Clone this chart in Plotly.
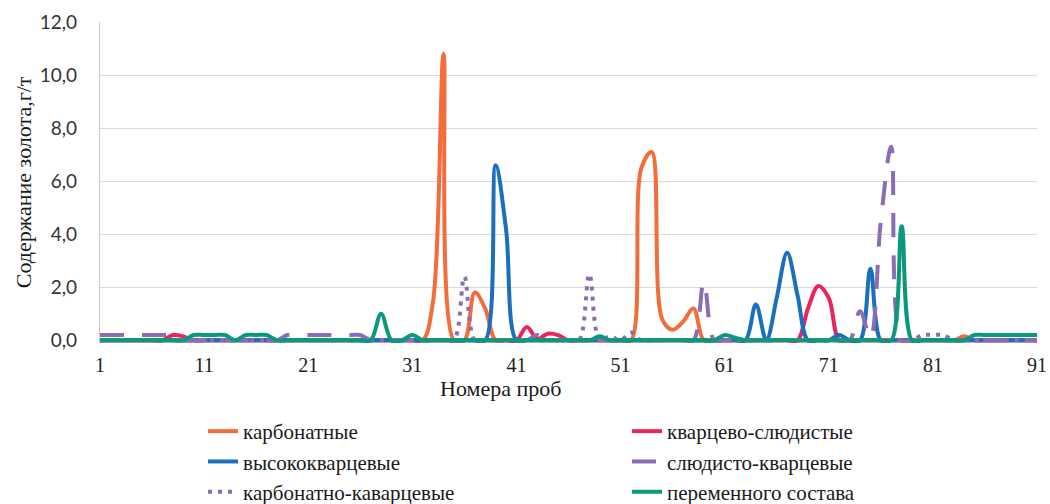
import plotly.graph_objects as go

# Sample numbers 1..91
samples = list(range(1, 92))

# Gold content, g/t, per sample for each rock type
karbonatnye = [
    0, 0, 0, 0, 0, 0, 0, 0, 0, 0,          # 1-10
    0, 0, 0, 0, 0, 0, 0, 0, 0, 0,          # 11-20
    0, 0, 0, 0, 0, 0, 0, 0, 0, 0,          # 21-30
    0, 0, 1.5, 10.8, 0, 0, 1.8, 1.2, 0, 0,  # 31-40
    0, 0, 0, 0, 0, 0, 0, 0, 0, 0,          # 41-50
    0, 0, 6.5, 7.1, 0.8, 0.4, 0.7, 1.2, 0, 0,  # 51-60
    0, 0, 0, 0, 0, 0, 0, 0, 0, 0,          # 61-70
    0, 0, 0, 0, 0, 0, 0, 0, 0, 0,          # 71-80
    0, 0, 0, 0.15, 0, 0, 0, 0, 0, 0,       # 81-90
    0,                                     # 91
]

kvartsevo_sludistye = [
    0, 0, 0, 0, 0, 0, 0, 0.2, 0.15, 0,
    0, 0, 0, 0, 0, 0, 0, 0, 0, 0,
    0, 0, 0, 0, 0, 0, 0, 0, 0, 0,
    0, 0, 0, 0, 0, 0, 0, 0, 0, 0,
    0, 0.5, 0.05, 0.25, 0.2, 0, 0, 0, 0, 0,
    0, 0, 0, 0, 0, 0, 0, 0, 0, 0,
    0, 0, 0, 0, 0, 0, 0, 0, 1.2, 2.05,
    1.6, 0, 0, 0, 0, 0, 0, 0, 0, 0,
    0, 0, 0, 0, 0, 0, 0, 0, 0, 0,
    0,
]

vysokokvartsevye = [
    0, 0, 0, 0, 0, 0, 0, 0, 0, 0,
    0, 0, 0, 0, 0, 0, 0, 0, 0, 0,
    0, 0, 0, 0, 0, 0, 0, 0, 0, 0,
    0, 0, 0, 0, 0, 0, 0, 0, 6.6, 4.2,
    0, 0, 0, 0, 0, 0, 0, 0, 0, 0,
    0, 0, 0, 0, 0, 0, 0, 0, 0, 0,
    0, 0, 0, 1.35, 0, 1.6, 3.3, 1.7, 0, 0,
    0, 0.2, 0, 0, 2.7, 0, 0, 0, 0, 0,
    0, 0, 0, 0, 0, 0, 0, 0, 0, 0,
    0,
]

sludisto_kvartsevye = [
    0.2, 0.2, 0.2, 0.2, 0.2, 0.2, 0.2, 0.2, 0, 0,
    0, 0, 0, 0, 0, 0, 0, 0, 0.2, 0.2,
    0.2, 0.2, 0.2, 0.2, 0.2, 0.2, 0, 0, 0, 0,
    0, 0, 0, 0, 0, 0, 0, 0, 0, 0,
    0, 0, 0.2, 0, 0, 0, 0, 0, 0, 0,
    0, 0, 0, 0, 0, 0, 0, 0, 2.2, 0,
    0, 0, 0, 0, 0, 0, 0, 0, 0, 0,
    0, 0, 0, 1.1, 0.1, 4.5, 7.3, 0, 0, 0,
    0, 0, 0, 0, 0, 0, 0, 0, 0, 0,
    0,
]

karbonatno_kvartsevye = [
    0, 0, 0, 0, 0, 0, 0, 0, 0, 0,
    0, 0, 0, 0, 0, 0, 0, 0, 0, 0,
    0, 0, 0, 0, 0, 0, 0, 0, 0, 0,
    0, 0, 0, 0, 0, 2.4, 0, 0, 0, 0,
    0, 0, 0, 0, 0, 0, 0, 2.5, 0, 0.15,
    0, 0.3, 0, 0, 0, 0, 0, 0, 0, 0,
    0, 0, 0, 0, 0, 0, 0, 0, 0, 0,
    0, 0, 0, 0, 0, 0, 0, 0, 0, 0.2,
    0.2, 0.2, 0, 0, 0, 0, 0, 0, 0, 0,
    0,
]

peremennogo_sostava = [
    0, 0, 0, 0, 0, 0, 0, 0, 0, 0.2,
    0.2, 0.2, 0.2, 0, 0.2, 0.2, 0.2, 0, 0, 0,
    0, 0, 0, 0, 0, 0, 0, 1.0, 0, 0,
    0.2, 0, 0, 0, 0, 0, 0, 0, 0, 0,
    0, 0, 0, 0, 0, 0, 0, 0, 0.15, 0,
    0, 0, 0, 0, 0, 0, 0, 0, 0, 0,
    0.2, 0.1, 0, 0, 0, 0, 0, 0, 0, 0,
    0, 0, 0, 0, 0, 0, 0, 4.3, 0, 0,
    0, 0, 0, 0, 0.2, 0.2, 0.2, 0.2, 0.2, 0.2,
    0.2,
]

# name, values, colour, dash pattern
series = [
    ("карбонатные", karbonatnye, "#F26D3A", "solid"),
    ("кварцево-слюдистые", kvartsevo_sludistye, "#E8265A", "solid"),
    ("высококварцевые", vysokokvartsevye, "#1A6FBE", "solid"),
    ("слюдисто-кварцевые", sludisto_kvartsevye, "#8B6DB4", "24px,18px"),
    ("карбонатно-каварцевые", karbonatno_kvartsevye, "#8B6DB4", "4px,6px"),
    ("переменного состава", peremennogo_sostava, "#0A9A7B", "solid"),
]

x_ticks = [1, 11, 21, 31, 41, 51, 61, 71, 81, 91]
y_ticks = [0, 2, 4, 6, 8, 10, 12]
y_tick_text = ["0,0", "2,0", "4,0", "6,0", "8,0", "10,0", "12,0"]

fig = go.Figure()
for name, values, color, dash in series:
    fig.add_trace(go.Scatter(
        x=samples, y=values, name=name, mode="lines",
        line=dict(color=color, width=4, dash=dash, shape="spline", smoothing=1.0),
    ))

serif = "Liberation Serif"
W, H = 1050, 504

fig.update_layout(
    width=W, height=H,
    margin=dict(l=100, r=13, t=22, b=161, autoexpand=False),
    paper_bgcolor="white", plot_bgcolor="white",
    showlegend=True,
    legend=dict(
        orientation="h", xref="container", yref="container",
        x=203 / W, xanchor="left", y=1 - 411 / H, yanchor="top",
        entrywidth=379, entrywidthmode="pixels",
        font=dict(family=serif, size=21, color="#1a1a1a"),
        itemwidth=30, bgcolor="rgba(0,0,0,0)", borderwidth=0,
    ),
    xaxis=dict(
        range=[1, 91], tickmode="array", tickvals=x_ticks, automargin=False,
        showgrid=False, zeroline=False, showline=False,
        ticks="", ticklabelstandoff=8,
        tickfont=dict(family=serif, size=20, color="#222"),
    ),
    yaxis=dict(
        range=[-0.1, 12], tickmode="array", tickvals=y_ticks, ticktext=y_tick_text,
        automargin=False,
        showgrid=True, gridcolor="#d9d9d9", gridwidth=1.3,
        zeroline=False, showline=True, linecolor="#c8c8c8", linewidth=1.3,
        ticks="", ticklabelstandoff=18,
        tickfont=dict(family="Lato", size=19, color="#333"),
    ),
    annotations=[
        dict(text="Номера проб", xref="paper", yref="paper",
             x=(500 - 100) / 937, y=-(388 - 342.6) / 320.6,
             xanchor="center", yanchor="middle", showarrow=False,
             font=dict(family=serif, size=22, color="#1a1a1a")),
        dict(text="Содержание золота,г/т", xref="paper", yref="paper",
             x=(23 - 100) / 937, y=(342.6 - 182) / 320.6,
             xanchor="center", yanchor="middle", showarrow=False, textangle=-90,
             font=dict(family=serif, size=22, color="#1a1a1a")),
    ],
)

fig.write_html("out.html")
